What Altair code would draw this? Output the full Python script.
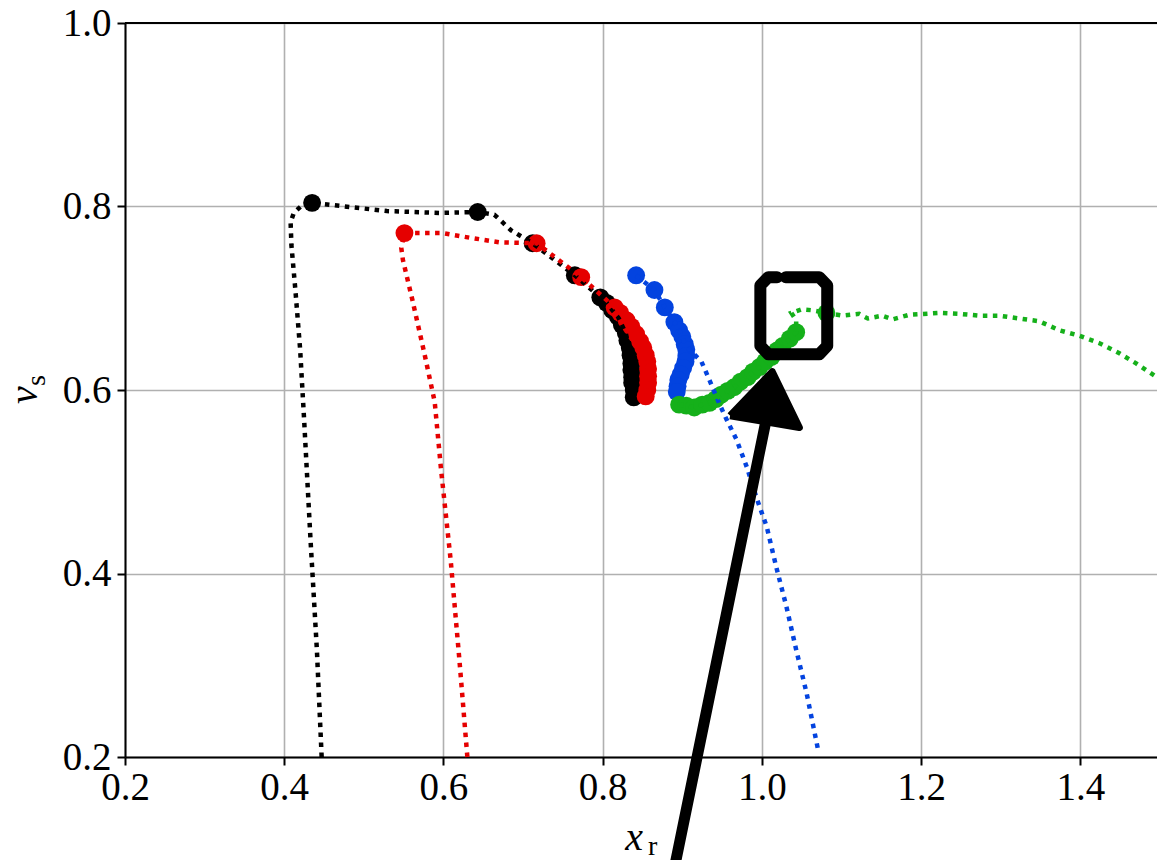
import altair as alt
import pandas as pd

# ---- trajectories (x_r, v_s) ----
black_line_x = [0.447, 0.441, 0.433, 0.425, 0.420, 0.414, 0.409, 0.408, 0.412, 0.422, 0.435,
                0.529, 0.595, 0.643, 0.664, 0.685, 0.712, 0.765, 0.797, 0.805, 0.812, 0.819,
                0.824, 0.829, 0.831, 0.834, 0.835, 0.836, 0.836, 0.837, 0.837, 0.839, 0.839]
black_line_y = [0.200, 0.317, 0.437, 0.567, 0.644, 0.709, 0.758, 0.783, 0.793, 0.801, 0.804,
                0.795, 0.793, 0.794, 0.791, 0.774, 0.760, 0.725, 0.701, 0.695, 0.687, 0.680,
                0.671, 0.662, 0.654, 0.646, 0.638, 0.629, 0.622, 0.614, 0.608, 0.600, 0.592]
black_dot_x = [0.435, 0.643, 0.712, 0.765, 0.797, 0.805, 0.812, 0.819, 0.824, 0.829, 0.831,
               0.834, 0.835, 0.836, 0.836, 0.837, 0.837, 0.839, 0.839]
black_dot_y = [0.804, 0.794, 0.760, 0.725, 0.701, 0.695, 0.687, 0.680, 0.671, 0.662, 0.654,
               0.646, 0.638, 0.629, 0.622, 0.614, 0.608, 0.600, 0.592]

red_line_x = [0.630, 0.620, 0.609, 0.597, 0.589, 0.576, 0.561, 0.549, 0.547, 0.551, 0.599,
              0.633, 0.670, 0.717, 0.773, 0.815, 0.822, 0.830, 0.836, 0.842, 0.847, 0.851,
              0.854, 0.856, 0.857, 0.857, 0.857, 0.856, 0.854]
red_line_y = [0.200, 0.306, 0.415, 0.513, 0.587, 0.640, 0.698, 0.742, 0.755, 0.771, 0.771,
              0.766, 0.761, 0.760, 0.723, 0.690, 0.684, 0.676, 0.669, 0.661, 0.653, 0.646,
              0.638, 0.631, 0.623, 0.615, 0.608, 0.600, 0.593]
red_dot_x = [0.551, 0.717, 0.773, 0.815, 0.822, 0.830, 0.836, 0.842, 0.847, 0.851, 0.854,
             0.856, 0.857, 0.857, 0.857, 0.856, 0.854]
red_dot_y = [0.771, 0.760, 0.723, 0.690, 0.684, 0.676, 0.669, 0.661, 0.653, 0.646, 0.638,
             0.631, 0.623, 0.615, 0.608, 0.600, 0.593]

blue_line_x = [1.070, 1.056, 1.043, 1.031, 1.018, 1.006, 0.993, 0.981, 0.968, 0.955, 0.947,
               0.934, 0.924, 0.909, 0.903, 0.900, 0.896, 0.890, 0.878, 0.865, 0.842]
blue_line_y = [0.210, 0.270, 0.317, 0.363, 0.407, 0.451, 0.483, 0.516, 0.546, 0.569, 0.584,
               0.611, 0.631, 0.644, 0.650, 0.658, 0.665, 0.674, 0.690, 0.709, 0.725]
blue_dot_x = [0.842, 0.865, 0.878, 0.890, 0.896, 0.900, 0.903, 0.905, 0.905, 0.904, 0.901,
              0.898, 0.895, 0.894, 0.893]
blue_dot_y = [0.725, 0.709, 0.690, 0.674, 0.665, 0.658, 0.650, 0.644, 0.637, 0.631, 0.624,
              0.617, 0.611, 0.604, 0.598]

green_dot_x = [0.896, 0.905, 0.915, 0.925, 0.934, 0.942, 0.949, 0.957, 0.965, 0.973, 0.982,
               0.989, 0.997, 1.004, 1.012, 1.019, 1.026, 1.035, 1.043, 1.081]
green_dot_y = [0.584, 0.583, 0.581, 0.584, 0.586, 0.590, 0.595, 0.599, 0.603, 0.609, 0.614,
               0.620, 0.625, 0.631, 0.636, 0.643, 0.648, 0.656, 0.663, 0.684]
green_line_x = [0.896, 0.905, 0.915, 0.925, 0.934, 0.942, 0.949, 0.957, 0.965, 0.973, 0.982,
                0.989, 0.997, 1.004, 1.012, 1.019, 1.026, 1.035, 1.043, 1.043, 1.037, 1.050,
                1.062, 1.081, 1.101, 1.122, 1.133, 1.151, 1.164, 1.185, 1.223, 1.248, 1.273,
                1.298, 1.323, 1.348, 1.374, 1.399, 1.424, 1.449, 1.470, 1.496]
green_line_y = [0.584, 0.583, 0.581, 0.584, 0.586, 0.590, 0.595, 0.599, 0.603, 0.609, 0.614,
                0.620, 0.625, 0.631, 0.636, 0.643, 0.648, 0.656, 0.663, 0.676, 0.684, 0.688,
                0.687, 0.684, 0.681, 0.683, 0.678, 0.681, 0.677, 0.682, 0.684, 0.683, 0.681,
                0.681, 0.678, 0.675, 0.665, 0.659, 0.651, 0.640, 0.629, 0.614]

# ---- hand-drawn annotation: box and arrow ----
box_x = [1.030, 1.072, 1.082, 1.082, 1.072, 1.008, 0.998, 0.998, 1.008, 1.019]
box_y = [0.723, 0.723, 0.714, 0.648, 0.639, 0.639, 0.648, 0.714, 0.723, 0.723]
shaft_x = [0.890, 1.004]
shaft_y = [0.079, 0.562]
head_x = [0.960, 1.013, 1.047]
head_top = [0.572, 0.620, 0.559]
head_bottom = [0.572, 0.564, 0.559]

series_names = ["black", "red", "blue", "green"]
series_colors = ["#000000", "#e50000", "#0343df", "#15b01a"]

FONT = "Liberation Serif"
W, H = 1032, 734
X_DOMAIN = [0.2, 1.4962]
Y_DOMAIN = [0.2, 1.0]


def table(name, xs, ys):
    return pd.DataFrame({"x": xs, "y": ys, "s": name, "i": range(len(xs))})


lines = pd.concat([
    table("black", black_line_x, black_line_y),
    table("red", red_line_x, red_line_y),
    table("blue", blue_line_x, blue_line_y),
    table("green", green_line_x, green_line_y),
])
dots = pd.concat([
    table("black", black_dot_x, black_dot_y),
    table("red", red_dot_x, red_dot_y),
    table("blue", blue_dot_x, blue_dot_y),
    table("green", green_dot_x, green_dot_y),
])

x_axis = alt.Axis(values=[0.2, 0.4, 0.6, 0.8, 1.0, 1.2, 1.4], format=".1f", title=None,
                  labelFlush=False, labelPadding=3)
y_axis = alt.Axis(values=[0.2, 0.4, 0.6, 0.8, 1.0], format=".1f", title=None, labelPadding=6)
x_enc = alt.X("x:Q", scale=alt.Scale(domain=X_DOMAIN, nice=False, zero=False), axis=x_axis)
y_enc = alt.Y("y:Q", scale=alt.Scale(domain=Y_DOMAIN, nice=False, zero=False), axis=y_axis)
color_enc = alt.Color("s:N", scale=alt.Scale(domain=series_names, range=series_colors), legend=None)

dot_layer = alt.Chart(dots).mark_circle(size=320, opacity=1).encode(
    x=x_enc, y=y_enc, color=color_enc
)
line_layer = alt.Chart(lines).mark_line(strokeWidth=4.5, strokeDash=[4.5, 5.5], strokeCap="butt").encode(
    x=x_enc, y=y_enc, color=color_enc, detail="s:N", order="i:Q"
)

box = alt.Chart(pd.DataFrame({"x": box_x, "y": box_y, "i": range(len(box_x))})).mark_line(
    color="black", strokeWidth=12, strokeJoin="round", strokeCap="round"
).encode(x=x_enc, y=y_enc, order="i:Q")

shaft = alt.Chart(pd.DataFrame({"x": shaft_x, "y": shaft_y, "i": [0, 1]})).mark_line(
    color="black", strokeWidth=11, strokeCap="round"
).encode(x=x_enc, y=y_enc, order="i:Q")

head_fill = alt.Chart(pd.DataFrame({"x": head_x, "y": head_top, "y2": head_bottom})).mark_area(
    color="black", opacity=1, interpolate="linear"
).encode(x=x_enc, y=y_enc, y2="y2:Q")

head_outline = alt.Chart(pd.DataFrame({
    "x": head_x + [head_x[0]], "y": head_top + [head_top[0]], "i": [0, 1, 2, 3]
})).mark_line(color="black", strokeWidth=7, strokeJoin="round").encode(x=x_enc, y=y_enc, order="i:Q")

# top frame line
top_spine = alt.Chart(pd.DataFrame({"a": [0]})).mark_rule(color="black", strokeWidth=2).encode(
    x=alt.value(0), x2=alt.value(W), y=alt.value(0)
)

# axis titles with subscripts
one = pd.DataFrame({"a": [0]})
x_title = alt.Chart(one).mark_text(text="x", font=FONT, fontSize=40, fontStyle="italic",
                                   align="center", baseline="alphabetic", color="black").encode(
    x=alt.value(509), y=alt.value(827))
x_sub = alt.Chart(one).mark_text(text="r", font=FONT, fontSize=28, align="left",
                                 baseline="alphabetic", color="black").encode(
    x=alt.value(523), y=alt.value(832))
y_title = alt.Chart(one).mark_text(text="v", font=FONT, fontSize=40, fontStyle="italic", angle=270,
                                   align="center", baseline="alphabetic", color="black").encode(
    x=alt.value(-88), y=alt.value(372))
y_sub = alt.Chart(one).mark_text(text="s", font=FONT, fontSize=28, angle=270, align="left",
                                 baseline="alphabetic", color="black").encode(
    x=alt.value(-80), y=alt.value(363))

chart = alt.layer(
    dot_layer, line_layer, box, shaft, head_fill, head_outline, top_spine,
    x_title, x_sub, y_title, y_sub
).properties(
    width=W, height=H,
    autosize=alt.AutoSizeParams(type="none"),
    padding={"left": 125, "top": 23, "right": 0, "bottom": 103},
).configure_view(
    stroke=None
).configure_axis(
    domainColor="black", domainWidth=2, tickColor="black", tickWidth=2, tickSize=8,
    gridColor="#b0b0b0", gridWidth=1.6, labelFont=FONT, labelFontSize=39, labelColor="black",
)

chart.save("out.html", embed_options={"renderer": "svg", "actions": False})
